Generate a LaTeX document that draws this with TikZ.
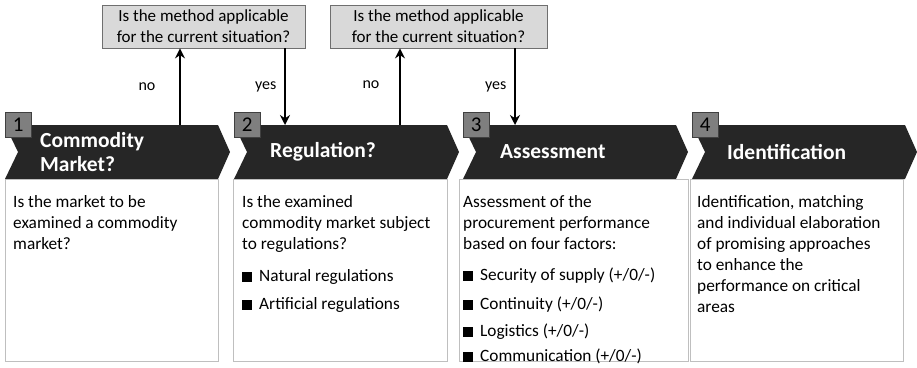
\documentclass[tikz,border=0pt]{standalone}
\usepackage{fontspec}
\setmainfont{Carlito}
\usepackage{tikz}
\usetikzlibrary{arrows.meta, positioning}
\definecolor{chevgray}{HTML}{262626}
\definecolor{askfill}{HTML}{D9D9D9}
\definecolor{askline}{HTML}{6F6F6F}
\definecolor{panelline}{HTML}{BFBFBF}
\definecolor{numfill}{HTML}{7F7F7F}
\newcommand{\sqitem}{\rule{10pt}{10pt}\hspace{7pt}}
\tikzset{
>={Stealth[length=10pt,width=10pt]}, % bold arrow heads
chev/.style={fill=chevgray}, % dark step arrows
title/.style={text=white, font=\fontsize{21.5}{24}\selectfont\bfseries, anchor=west, align=left, inner sep=0pt},
numbox/.style={draw=black!75, fill=numfill, anchor=north west, minimum width=26pt, minimum height=25pt, inner sep=1pt, font=\fontsize{21}{21}\selectfont, align=left, text depth=0pt},
ask/.style={draw=askline, fill=askfill, line width=0.8pt, align=center, font=\fontsize{17}{21}\selectfont, minimum height=43pt, inner sep=0pt},
panel/.style={draw=panelline, line width=1pt, fill=white},
body/.style={anchor=north west, align=left, inner sep=0pt, font=\fontsize{17.3}{21}\selectfont},
flow/.style={->, line width=2.5pt},
answer/.style={font=\fontsize{16}{18}\selectfont},
}
\begin{document}
\begin{tikzpicture}[x=1pt,y=-1pt]
  \useasboundingbox (0,0) rectangle (917,367);

  % step arrows
  \foreach \L/\n in {5/1,234/2,463/3,692/4}{
    \fill[chev] (\L,125) -- (\L+213,125) -- (\L+225,152) -- (\L+213,179)
      -- (\L,179) -- (\L+13,152) -- cycle;
    \node[numbox] (num\n) at (\L,112) {\n};
  }
  \node[title] (t1) at (40,152) {Commodity\\Market?};
  \node[title] (t2) at (270,152) {Regulation?};
  \node[title] (t3) at (500,152) {Assessment};
  \node[title] (t4) at (727,152) {Identification};

  % panels below the steps
  \draw[panel] (5,179) rectangle (218,361);
  \draw[panel] (233,179) rectangle (447,361);
  \draw[panel] (459,179) rectangle (688,361);
  \draw[panel] (690,179) rectangle (903,361);

  \node[body] (b1) at (13,195.5) {Is the market to be\\examined a commodity\\market?};
  \node[body] (b2) at (242,195.5) {Is the examined\\commodity market subject\\to regulations?\\[11pt]
    \sqitem Natural regulations\\[7pt]\sqitem Artificial regulations};
  \node[body] (b3) at (463,195.5) {Assessment of the\\procurement performance\\based on four factors:\\[10pt]
    \sqitem Security of supply (+/0/-)\\[8pt]\sqitem Continuity (+/0/-)\\[6pt]
    \sqitem Logistics (+/0/-)\\[4pt]\sqitem Communication (+/0/-)};
  \node[body] (b4) at (697,195.5) {Identification, matching\\and individual elaboration\\of promising approaches\\to enhance the\\performance on critical\\areas};

  % decision boxes
  \node[ask, minimum width=203pt] (ask1) at (203.5,26.5) {Is the method applicable\\for the current situation?};
  \node[ask, minimum width=217pt] (ask2) at (438.5,26.5) {Is the method applicable\\for the current situation?};

  \coordinate (top1) at (180,125);
  \coordinate (top2) at (285,125);
  \coordinate (top3) at (400,125);
  \coordinate (top4) at (515,125);

  \draw[flow] (top1) -- (top1 |- ask1.south) node[answer, pos=0.5, left=20pt] {no};
  \draw[flow] (ask1.south -| top2) -- (top2) node[answer, pos=0.5, left=4pt] {yes};
  \draw[flow] (top3) -- (top3 |- ask2.south) node[answer, pos=0.53, left=16pt] {no};
  \draw[flow] (ask2.south -| top4) -- (top4) node[answer, pos=0.5, left=4pt] {yes};
\end{tikzpicture}
\end{document}
